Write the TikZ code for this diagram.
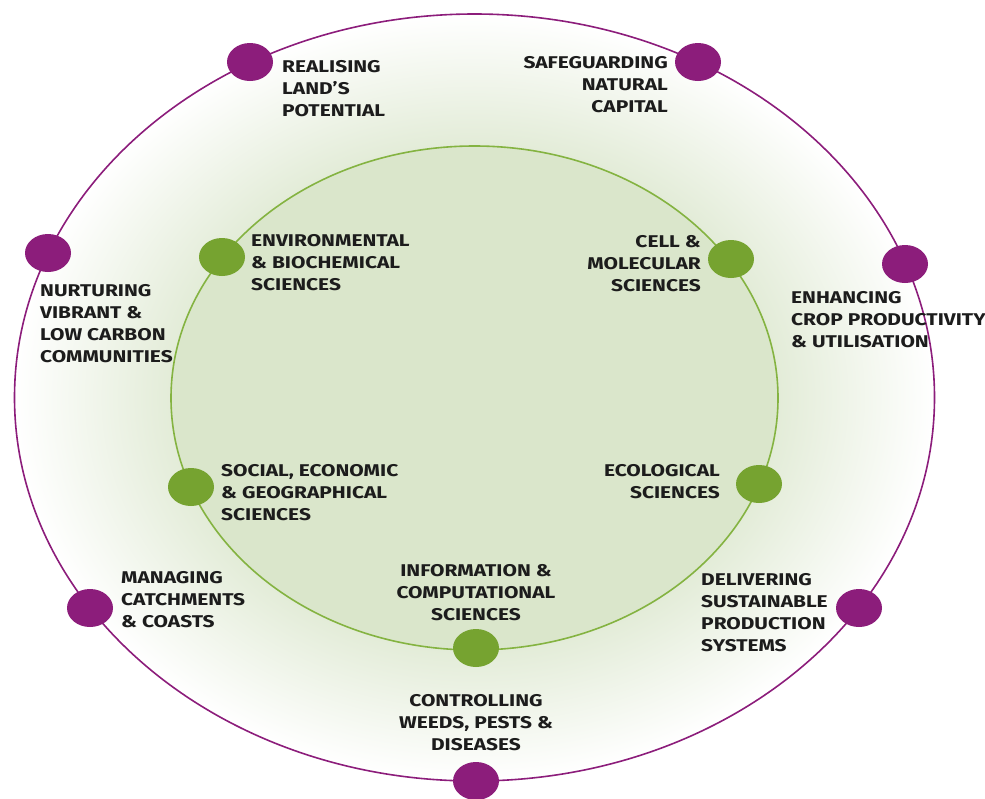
\documentclass[tikz,border=0pt]{standalone}
\usepackage{fontspec}
\setmainfont{Fira Sans}[FakeStretch=1.23]
\usetikzlibrary{shapes.geometric}
\definecolor{plum}{HTML}{8C1D7B}
\definecolor{leaf}{HTML}{76A330}
\definecolor{leafline}{HTML}{84B341}
\definecolor{corefill}{HTML}{DAE6CB}
\definecolor{ringgreen}{HTML}{E3ECD8}
\definecolor{ink}{HTML}{1C1C1C}
\pgfdeclareradialshading{ringfade}{\pgfpointorigin}{color(0bp)=(ringgreen); color(16.5bp)=(ringgreen); color(25bp)=(white); color(50bp)=(white)}
\tikzset{
  theme/.style={ellipse, fill=plum, draw=none, minimum width=46pt, minimum height=38pt, inner sep=0pt},
  field/.style={ellipse, fill=leaf, draw=none, minimum width=46pt, minimum height=38pt, inner sep=0pt},
  lbl/.style={font=\fontsize{17}{22}\selectfont\bfseries, text=ink, inner sep=0pt},
}
\begin{document}
\begin{tikzpicture}[x=1pt,y=-1pt]
\useasboundingbox (0,0) rectangle (985,798);
% rings
\shade[shading=ringfade] (474.5,397.5) ellipse (460 and 383.5);
\draw[plum, line width=1.6pt] (474.5,397.5) ellipse (460 and 383.5);
\fill[corefill] (474.5,398) ellipse (303.5 and 252);
\draw[leafline, line width=1.6pt] (474.5,398) ellipse (303.5 and 252);
% themes on the outer ring
\node[theme] (realise) at (250,62) {};
\node[theme] (safeguard) at (698,62) {};
\node[theme] (nurture) at (48,253) {};
\node[theme] (enhance) at (905,264) {};
\node[theme] (manage) at (90,608) {};
\node[theme] (deliver) at (859,608) {};
\node[theme] (control) at (476,781) {};
% sciences on the inner ring
\node[field] (envsci) at (222,257) {};
\node[field] (cellsci) at (731,259) {};
\node[field] (socsci) at (191,487) {};
\node[field] (ecosci) at (759,484) {};
\node[field] (infosci) at (476,648) {};
% labels
\node[lbl, anchor=west, align=left] (realiselbl) at (282,89) {REALISING\\LAND’S\\POTENTIAL};
\node[lbl, anchor=east, align=right] (safeguardlbl) at (668,84.5) {SAFEGUARDING\\NATURAL\\CAPITAL};
\node[lbl, anchor=west, align=left] (nurturelbl) at (40,323.5) {NURTURING\\VIBRANT \&\\LOW CARBON\\COMMUNITIES};
\node[lbl, anchor=west, align=left] (enhancelbl) at (791,320) {ENHANCING\\CROP PRODUCTIVITY\\\& UTILISATION};
\node[lbl, anchor=west, align=left] (managelbl) at (121,599.5) {MANAGING\\CATCHMENTS\\\& COASTS};
\node[lbl, anchor=west, align=left] (deliverlbl) at (701,612.5) {DELIVERING\\SUSTAINABLE\\PRODUCTION\\SYSTEMS};
\node[lbl, align=center] (controllbl) at (476,723) {CONTROLLING\\WEEDS, PESTS \&\\DISEASES};
\node[lbl, anchor=west, align=left] (envlbl) at (251,263) {ENVIRONMENTAL\\\& BIOCHEMICAL\\SCIENCES};
\node[lbl, anchor=east, align=right] (celllbl) at (701,263.5) {CELL \&\\MOLECULAR\\SCIENCES};
\node[lbl, anchor=west, align=left] (soclbl) at (221,492.5) {SOCIAL, ECONOMIC\\\& GEOGRAPHICAL\\SCIENCES};
\node[lbl, anchor=east, align=right] (ecolbl) at (720,482) {ECOLOGICAL\\SCIENCES};
\node[lbl, align=center] (infolbl) at (476,592.5) {INFORMATION \&\\COMPUTATIONAL\\SCIENCES};
\end{tikzpicture}
\end{document}
